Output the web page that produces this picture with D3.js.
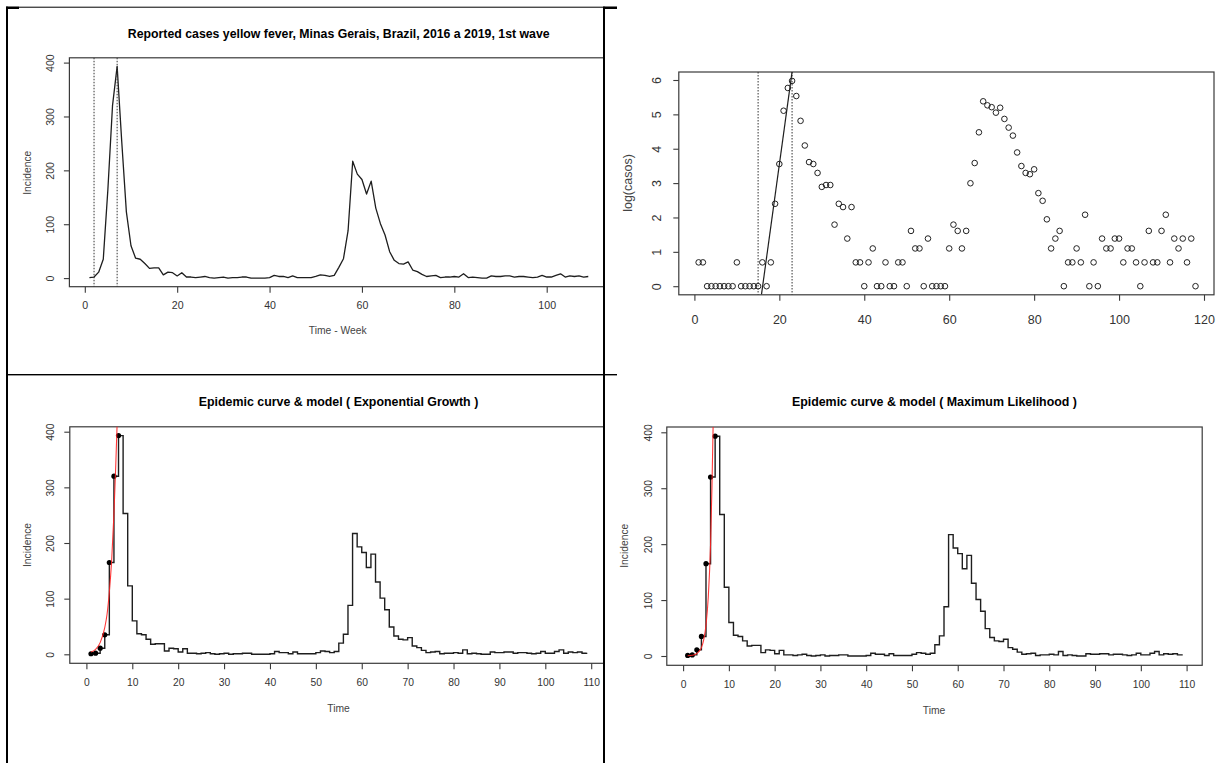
<!DOCTYPE html>
<html>
<head>
<meta charset="utf-8">
<script src="https://cdn.jsdelivr.net/npm/d3@7"></script>
<style>
  html, body { margin: 0; padding: 0; background: #fff; }
  svg { display: block; font-family: "Liberation Sans", Arial, Helvetica, sans-serif; }
</style>
</head>
<body>
<svg id="fig" width="1217" height="763"></svg>
<script>
// ---- data -------------------------------------------------------------
// Weekly reported yellow fever cases, weeks 1..109
const incidence = [
  1, 2, 11, 35, 165, 320, 393, 253, 123, 60,
  37, 35, 27, 18, 19, 19, 6, 11, 10, 4,
  10, 2, 2, 1, 2, 3, 1, 0, 1, 2,
  0, 1, 1, 2, 2, 0, 0, 0, 0, 1,
  5, 3, 3, 1, 4, 1, 1, 1, 1, 3,
  6, 5, 3, 5, 20, 36, 88, 217, 193, 183,
  156, 180, 130, 101, 80, 49, 33, 27, 26, 30,
  15, 12, 7, 3, 4, 5, 1, 2, 2, 3,
  2, 8, 1, 2, 1, 0, 0, 4, 3, 3,
  4, 4, 2, 3, 3, 2, 1, 2, 5, 2,
  2, 5, 8, 2, 4, 3, 4, 2, 3
];

// Counts of the weeks with at least one case (plotted as log(casos))
const casos = [
  2, 2, 1, 1, 1, 1, 1, 1, 1, 2,
  1, 1, 1, 1, 1, 2, 1, 2, 11, 35,
  165, 320, 393, 253, 123, 60, 37, 35, 27, 18,
  19, 19, 6, 11, 10, 4, 10, 2, 2, 1,
  2, 3, 1, 1, 2, 1, 1, 2, 2, 1,
  5, 3, 3, 1, 4, 1, 1, 1, 1, 3,
  6, 5, 3, 5, 20, 36, 88, 217, 193, 183,
  156, 180, 130, 101, 80, 49, 33, 27, 26, 30,
  15, 12, 7, 3, 4, 5, 1, 2, 2, 3,
  2, 8, 1, 2, 1, 4, 3, 3, 4, 4,
  2, 3, 3, 2, 1, 2, 5, 2, 2, 5,
  8, 2, 4, 3, 4, 2, 4, 1
];

// Growth window markers
const growthWindowWeeks = [2, 7];
const logWindowWeeks = [15, 23];

// Linear fit over the log window (end points)
const fitX = [15.8, 23.0];
const fitY = [-0.24, 6.24];

// Fitted model curves (first weeks)
const expGrowthX = [1, 2, 3, 4, 4.5, 5, 5.5, 6, 6.4, 6.8];
const expGrowthY = [4, 9, 21, 48, 72, 112, 168, 252, 340, 440];
const maxLikX = [1, 2, 3, 4, 4.5, 5, 5.5, 6, 6.3, 6.6];
const maxLikY = [0.4, 1.3, 4.5, 15, 29, 55, 105, 200, 300, 430];

// Weeks fitted by the models
const fitWeeks = 7;

// Tick labels
const incidenceTicks = [0, 100, 200, 300, 400];
const weekTicks = [0, 20, 40, 60, 80, 100];
const timeTicks = [0, 10, 20, 30, 40, 50, 60, 70, 80, 90, 100, 110];
const logYTicks = [0, 1, 2, 3, 4, 5, 6];
const logXTicks = [0, 20, 40, 60, 80, 100, 120];

// ---- drawing ----------------------------------------------------------
const svg = d3.select("#fig");
svg.append("rect").attr("width", 1217).attr("height", 763).attr("fill", "#fff");
const defs = svg.append("defs");

const TICK_COL = "#333";
const LAB_COL = "#444";
const BOX_COL = "#3a3a3a";
const LINE_COL = "#1e1e1e";

function makePanel(cfg) {
  const c = cfg.cell;
  defs.append("clipPath").attr("id", cfg.id + "-cell")
    .append("rect").attr("x", c.x0).attr("y", c.y0)
    .attr("width", c.x1 - c.x0).attr("height", c.y1 - c.y0);
  const b = cfg.box;
  const pr = Math.min(b.r, c.x1);
  defs.append("clipPath").attr("id", cfg.id + "-plot")
    .append("rect").attr("x", b.l).attr("y", b.t)
    .attr("width", pr - b.l).attr("height", b.b - b.t);

  const g = svg.append("g").attr("clip-path", `url(#${cfg.id}-cell)`);
  const x = d3.scaleLinear().domain(cfg.xDom).range(cfg.xPx);
  const y = d3.scaleLinear().domain(cfg.yDom).range(cfg.yPx);

  // x axis
  const xa = g.append("g").attr("transform", `translate(0,${b.b})`)
    .call(d3.axisBottom(x).tickValues(cfg.xTicks).tickSize(6).tickFormat(d3.format("d")));
  xa.select(".domain").remove();
  xa.selectAll(".tick line").attr("stroke", BOX_COL).attr("stroke-width", 1.1);
  xa.selectAll(".tick text")
    .attr("y", cfg.xLabY - b.b).attr("dy", "0.36em")
    .attr("fill", TICK_COL).attr("font-size", cfg.fs)
    .attr("font-family", "Liberation Sans, Arial, sans-serif");

  // y axis with rotated labels
  const ya = g.append("g").attr("transform", `translate(${b.l},0)`)
    .call(d3.axisLeft(y).tickValues(cfg.yTicks).tickSize(5.5).tickFormat(d3.format("d")));
  ya.select(".domain").remove();
  ya.selectAll(".tick line").attr("stroke", BOX_COL).attr("stroke-width", 1.1);
  ya.selectAll(".tick text")
    .attr("x", 0).attr("y", 0).attr("dy", "0.36em")
    .attr("text-anchor", "middle")
    .attr("transform", `translate(${cfg.yLabX - b.l},0) rotate(-90)`)
    .attr("fill", TICK_COL).attr("font-size", cfg.fs)
    .attr("font-family", "Liberation Sans, Arial, sans-serif");

  // plot box
  g.append("rect").attr("x", b.l).attr("y", b.t)
    .attr("width", b.r - b.l).attr("height", b.b - b.t)
    .attr("fill", "none").attr("stroke", BOX_COL).attr("stroke-width", 1.2);

  if (cfg.title) {
    g.append("text").attr("x", cfg.title.x).attr("y", cfg.title.y)
      .attr("dy", "0.36em").attr("text-anchor", "middle")
      .attr("font-weight", "bold").attr("font-size", cfg.title.fs)
      .attr("fill", "#000").text(cfg.title.text);
  }
  if (cfg.xTitle) {
    g.append("text").attr("x", cfg.xTitle.x).attr("y", cfg.xTitle.y)
      .attr("dy", "0.36em").attr("text-anchor", "middle")
      .attr("font-size", cfg.xTitle.fs).attr("fill", LAB_COL).text(cfg.xTitle.text);
  }
  if (cfg.yTitle) {
    g.append("text").attr("text-anchor", "middle").attr("dy", "0.33em")
      .attr("transform", `translate(${cfg.yTitle.x},${cfg.yTitle.y}) rotate(-90)`)
      .attr("font-size", cfg.yTitle.fs).attr("fill", LAB_COL).text(cfg.yTitle.text);
  }

  const plot = g.append("g").attr("clip-path", `url(#${cfg.id}-plot)`);
  return { g, plot, x, y, box: b };
}

const weekData = incidence.map((v, i) => ({ w: i + 1, v }));

// ---- top-left: weekly line -------------------------------------------
{
  const p = makePanel({
    id: "tl",
    cell: { x0: 8, y0: 8, x1: 603, y1: 374 },
    box: { l: 69.4, t: 57.8, r: 608, b: 286.7 },
    xDom: [0, 100], xPx: [84.8, 546.7],
    yDom: [0, 400], yPx: [278.1, 62.6],
    xTicks: weekTicks, yTicks: incidenceTicks,
    xLabY: 305, yLabX: 50.6, fs: 10.6,
    title: { x: 338.7, y: 33.3, fs: 12.3, text: "Reported cases yellow fever, Minas Gerais, Brazil, 2016 a 2019, 1st wave" },
    xTitle: { x: 337.7, y: 330, fs: 10.3, text: "Time - Week" },
    yTitle: { x: 28, y: 172.7, fs: 10.3, text: "Incidence" }
  });
  p.plot.append("path").datum(weekData)
    .attr("d", d3.line().x(d => p.x(d.w)).y(d => p.y(d.v)))
    .attr("fill", "none").attr("stroke", LINE_COL).attr("stroke-width", 1.3)
    .attr("stroke-linejoin", "round");
  p.plot.selectAll("line.win").data(growthWindowWeeks).join("line")
    .attr("class", "win")
    .attr("x1", d => p.x(d)).attr("x2", d => p.x(d))
    .attr("y1", p.box.t).attr("y2", p.box.b)
    .attr("stroke", "#333").attr("stroke-width", 1).attr("stroke-dasharray", "1.5,1.5");
}

// ---- top-right: log(casos) -------------------------------------------
{
  const p = makePanel({
    id: "tr",
    cell: { x0: 605, y0: 8, x1: 1217, y1: 374 },
    box: { l: 678.8, t: 72, r: 1214, b: 294.8 },
    xDom: [0, 120], xPx: [694.4, 1204],
    yDom: [0, 6], yPx: [286.2, 80.0],
    xTicks: logXTicks, yTicks: logYTicks,
    xLabY: 319.3, yLabX: 656.5, fs: 12.5,
    yTitle: { x: 627.4, y: 183, fs: 12.5, text: "log(casos)" }
  });
  const pts = casos.map((c, i) => ({ i: i + 1, v: Math.log(c) }));
  p.plot.selectAll("line.win").data(logWindowWeeks).join("line")
    .attr("class", "win")
    .attr("x1", d => p.x(d)).attr("x2", d => p.x(d))
    .attr("y1", p.box.t).attr("y2", p.box.b)
    .attr("stroke", "#333").attr("stroke-width", 1).attr("stroke-dasharray", "1.5,1.5");
  p.plot.append("line")
    .attr("x1", p.x(fitX[0])).attr("y1", p.y(fitY[0]))
    .attr("x2", p.x(fitX[1])).attr("y2", p.y(fitY[1]))
    .attr("stroke", LINE_COL).attr("stroke-width", 1.2);
  p.g.selectAll("circle.pt").data(pts).join("circle")
    .attr("class", "pt")
    .attr("cx", d => p.x(d.i)).attr("cy", d => p.y(d.v)).attr("r", 2.8)
    .attr("fill", "none").attr("stroke", "#222").attr("stroke-width", 1);
}

// ---- bottom panels: step epidemic curve + model -----------------------
function epiPanel(cfg, modelX, modelY) {
  const p = makePanel(cfg);
  p.plot.append("path").datum(weekData)
    .attr("d", d3.line().curve(d3.curveStepAfter).x(d => p.x(d.w)).y(d => p.y(d.v)))
    .attr("fill", "none").attr("stroke", LINE_COL).attr("stroke-width", 1.4);
  p.plot.selectAll("circle.fit").data(weekData.slice(0, fitWeeks)).join("circle")
    .attr("class", "fit")
    .attr("cx", d => p.x(d.w)).attr("cy", d => p.y(d.v)).attr("r", 2.6)
    .attr("fill", "#000");
  const model = modelX.map((xv, i) => ({ x: xv, y: modelY[i] }));
  p.plot.append("path").datum(model)
    .attr("d", d3.line().curve(d3.curveMonotoneX).x(d => p.x(d.x)).y(d => p.y(d.y)))
    .attr("fill", "none").attr("stroke", "#f22").attr("stroke-width", 1.1)
    .attr("stroke-opacity", 0.9);
}

epiPanel({
  id: "bl",
  cell: { x0: 8, y0: 376, x1: 603, y1: 763 },
  box: { l: 69.8, t: 426.8, r: 606, b: 663.3 },
  xDom: [0, 110], xPx: [86.4, 591.2],
  yDom: [0, 400], yPx: [654.3, 431.7],
  xTicks: timeTicks, yTicks: incidenceTicks,
  xLabY: 682.3, yLabX: 50.6, fs: 10.3,
  title: { x: 338.5, y: 401.7, fs: 12.4, text: "Epidemic curve & model ( Exponential Growth )" },
  xTitle: { x: 338.5, y: 708.3, fs: 10.3, text: "Time" },
  yTitle: { x: 28, y: 545, fs: 10.3, text: "Incidence" }
}, expGrowthX, expGrowthY);

epiPanel({
  id: "br",
  cell: { x0: 605, y0: 376, x1: 1217, y1: 763 },
  box: { l: 666.8, t: 427, r: 1202.2, b: 665.3 },
  xDom: [0, 110], xPx: [683.1, 1186.6],
  yDom: [0, 400], yPx: [656, 432.3],
  xTicks: timeTicks, yTicks: incidenceTicks,
  xLabY: 684.3, yLabX: 648.7, fs: 10.3,
  title: { x: 934.4, y: 401.7, fs: 12.4, text: "Epidemic curve & model ( Maximum Likelihood )" },
  xTitle: { x: 934, y: 710, fs: 10.3, text: "Time" },
  yTitle: { x: 624.5, y: 545.7, fs: 10.3, text: "Incidence" }
}, maxLikX, maxLikY);

// ---- table rules around the four figures ------------------------------
const rules = svg.append("g").attr("fill", "#000");
rules.append("rect").attr("x", 6).attr("y", 6.7).attr("width", 611).attr("height", 1);   // top rule
rules.append("rect").attr("x", 6).attr("y", 6.7).attr("width", 13).attr("height", 2.3);
rules.append("rect").attr("x", 603).attr("y", 6.7).attr("width", 14).attr("height", 2.3);
rules.append("rect").attr("x", 6).attr("y", 6.7).attr("width", 2).attr("height", 757);   // left rule
rules.append("rect").attr("x", 603).attr("y", 6.7).attr("width", 2).attr("height", 757); // middle rule
rules.append("rect").attr("x", 6).attr("y", 374).attr("width", 611).attr("height", 1.4); // row rule
</script>
</body>
</html>
